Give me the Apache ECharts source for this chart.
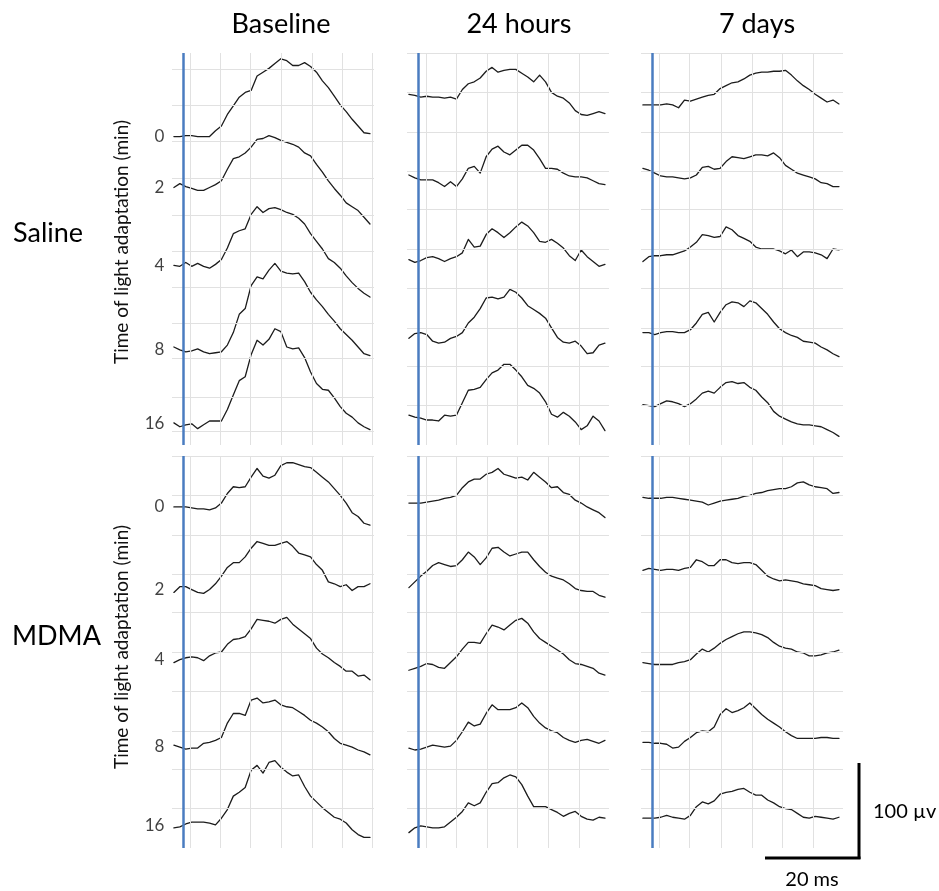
<!DOCTYPE html>
<html>
<head>
<meta charset="utf-8">
<script src="https://cdn.jsdelivr.net/npm/echarts@6/dist/echarts.min.js"></script>
<style>
html,body{margin:0;padding:0;background:#ffffff;}
#chart{width:939px;height:891px;}
</style>
</head>
<body>
<div id="chart"></div>
<script>
// ---------------- DATA ----------------
const columnTitles = ['Baseline', '24 hours', '7 days'];
const groupNames = ['Saline', 'MDMA'];
const adaptMinutes = ['0', '2', '4', '8', '16'];
const axisTitle = 'Time of light adaptation (min)';

// sample times (ms after flash)
const timesMs = [-2, -0.75, 0.5, 1.75, 3, 4.25, 5.5, 6.75, 8, 9.25, 10.5, 11.75, 13, 14.25, 15.5, 16.75, 18,
  19.25, 20.5, 21.75, 23, 24.25, 25.5, 26.75, 28, 29.25, 30.5, 31.75, 33, 34.25, 35.5, 36.75, 38, 39.25];

// ERG amplitudes (µV, relative to each trace's pre-flash baseline), traces: 0,2,4,8,16 min
const salineBaseline = [
  [0,0,1,1,0,0,0,6,11,23,32,41,46,48,63,67,71,76,81,79,74,74,77,73,67,58,51,42,33,26,18,11,4,3],
  [0,4,1,-1,-3,-3,0,3,7,19,30,32,36,42,50,51,54,52,49,47,45,42,36,33,24,16,7,-1,-8,-16,-20,-24,-31,-38],
  [0,-1,3,-1,2,-1,-3,1,6,18,33,36,38,53,61,55,59,60,58,55,53,49,43,33,25,17,7,3,-3,-11,-18,-24,-29,-33],
  [3,0,-2,-1,1,-2,-4,-3,-2,5,18,37,43,67,76,74,83,90,82,80,79,80,71,60,52,45,37,30,22,16,10,3,-4,-6],
  [1,-3,-1,0,-5,-1,3,3,3,15,30,45,49,72,87,82,88,99,96,80,78,79,69,54,42,36,35,27,18,11,7,1,-3,-6]
];
const saline24h = [
  [1,0,-2,-1,-2,-2,-3,-2,-4,6,12,14,18,25,29,24,26,27,27,23,19,14,21,14,3,-1,-3,-8,-16,-20,-21,-19,-17,-19],
  [1,-2,-4,-4,-4,-7,-11,-6,-11,-3,8,10,3,20,28,31,25,22,27,32,32,27,18,8,8,7,3,0,-1,-1,-2,-5,-8,-9],
  [2,-1,1,4,5,3,0,3,5,9,23,15,16,28,34,30,25,30,36,41,37,30,21,20,23,19,14,6,1,12,5,0,-5,-3],
  [-1,4,5,3,-4,-6,-5,-1,1,5,15,21,30,41,42,40,42,50,47,41,33,29,25,20,10,0,-5,-6,-4,-9,-17,-16,-8,-6],
  [1,-1,-2,-4,-4,-5,1,0,1,14,27,28,30,38,45,48,54,54,48,41,32,29,24,15,2,-1,4,0,-6,-14,-10,0,-5,-15]
];
const saline7d = [
  [0,0,0,0,1,0,-3,5,4,6,8,10,11,17,20,23,24,27,31,33,34,34,35,35,36,31,25,20,16,11,7,3,5,1],
  [8,6,3,0,-1,-1,-2,-3,-2,1,9,10,7,8,15,20,19,18,20,22,22,21,24,19,11,7,3,1,-1,-3,-7,-8,-11,-11],
  [-6,-1,0,0,1,1,3,5,9,14,22,21,19,20,30,27,21,18,15,9,7,7,7,5,2,6,-1,4,4,3,1,-3,7,6],
  [0,0,-2,0,1,1,0,0,3,10,19,21,11,21,29,32,31,27,33,31,25,19,11,4,0,-3,-5,-9,-10,-11,-15,-18,-22,-25],
  [0,-1,-2,1,4,3,1,-2,1,6,12,14,12,18,23,24,22,23,18,15,8,2,-7,-12,-15,-18,-20,-21,-21,-22,-23,-26,-29,-33]
];
const mdmaBaseline = [
  [0,0,0,-1,-2,-2,-3,-1,4,14,21,20,21,31,40,32,30,33,43,46,46,44,42,41,36,31,26,19,12,4,-6,-10,-17,-19],
  [-3,3,3,0,-3,-4,0,6,14,23,28,28,34,43,50,48,46,46,48,50,45,38,36,34,26,20,8,6,3,5,-1,3,3,6],
  [-3,0,2,3,2,-1,4,7,8,16,21,22,24,32,42,41,40,38,42,44,37,32,27,22,12,6,2,-3,-7,-12,-12,-17,-16,-21],
  [1,-1,-3,-2,-2,3,4,6,9,24,34,34,32,48,50,45,46,48,43,41,40,36,32,27,24,20,15,8,3,1,-1,-4,-6,-9],
  [-2,-1,2,4,4,4,3,1,8,17,31,35,40,58,63,55,66,68,61,56,52,53,41,31,25,19,14,9,7,3,-4,-9,-12,-12]
];
const mdma24h = [
  [0,0,0,1,2,3,5,6,8,16,22,25,25,30,32,36,30,28,26,27,24,32,27,22,16,17,11,9,3,0,-4,-7,-10,-15],
  [-8,-2,4,9,15,18,16,14,15,21,29,24,16,23,33,34,29,25,27,29,29,21,14,8,4,2,0,-4,-9,-11,-12,-12,-16,-18],
  [-2,0,2,5,4,1,0,6,12,20,27,27,26,36,45,43,40,45,50,52,47,38,31,27,23,19,15,9,5,4,2,0,-5,-7],
  [0,-2,-1,1,3,2,1,2,8,17,27,23,25,36,45,40,40,40,42,47,42,33,26,21,18,16,11,8,6,8,9,7,5,8],
  [-5,0,2,1,0,0,1,6,11,17,26,23,26,37,46,47,52,55,53,45,33,22,22,22,19,16,12,15,17,12,9,8,11,10]
];
const mdma7d = [
  [1,0,0,0,1,1,0,-1,-2,-3,-4,-7,-5,-3,-2,-1,0,2,3,5,6,8,9,10,10,12,16,17,14,12,11,10,5,6],
  [0,2,1,0,1,1,0,2,3,11,9,5,5,11,11,8,7,8,8,6,0,-6,-9,-11,-10,-11,-12,-14,-15,-16,-19,-20,-21,-20],
  [1,0,-1,-1,-1,-1,1,2,4,10,15,12,16,21,25,28,31,33,33,32,30,27,22,18,16,15,12,11,8,8,9,11,12,14],
  [0,0,-1,-1,-2,-6,-5,1,5,10,12,11,16,29,35,31,33,36,41,35,29,24,20,16,11,7,4,4,4,4,5,5,4,4],
  [0,0,0,1,3,1,0,-1,3,12,17,15,18,25,27,28,30,31,27,24,24,19,16,12,10,9,5,1,0,2,1,0,-1,1]
];

// vertical stacking offsets of each trace (µV above panel bottom)
const salineBaselineOffsets = [321, 268, 187, 99, 22];
const saline24hOffsets = [364, 280, 191, 112, 30];
const saline7dOffsets = [354, 280, 197, 117, 42];
const mdmaBaselineOffsets = [355, 269, 196, 106, 23];
const mdma24hOffsets = [359, 279, 187, 104, 21];
const mdma7dOffsets = [364, 289, 192, 110, 31];

// background grid (ms / µV)
const vGridBaseline = [1.4, 7.7, 14.0, 20.5, 27.1, 33.4, 39.7];
const vGrid24h = [1.7, 8.0, 14.5, 20.8, 27.4, 33.9];
const vGrid7d = [1.5, 7.8, 14.5, 21.0, 27.4, 33.9];
const hGridSalineBaseline = [391, 354, 316, 278, 239, 202, 164, 127, 90, 50, 14];
const hGridStandard = [408, 367, 326, 285, 245, 204, 163, 122, 82, 41];

// ---------------- CHART ----------------
const FONT = 'Lato, "Open Sans", sans-serif';
const panels = [
  {row:0, col:0, traces:salineBaseline, offsets:salineBaselineOffsets, v:vGridBaseline, h:hGridSalineBaseline},
  {row:0, col:1, traces:saline24h, offsets:saline24hOffsets, v:vGrid24h, h:hGridStandard},
  {row:0, col:2, traces:saline7d, offsets:saline7dOffsets, v:vGrid7d, h:hGridStandard},
  {row:1, col:0, traces:mdmaBaseline, offsets:mdmaBaselineOffsets, v:vGridBaseline, h:hGridStandard},
  {row:1, col:1, traces:mdma24h, offsets:mdma24hOffsets, v:vGrid24h, h:hGridStandard},
  {row:1, col:2, traces:mdma7d, offsets:mdma7dOffsets, v:vGrid7d, h:hGridStandard}
];
const gridLeft = [172, 407, 641];
const gridTop = [53, 456];
const namePad = [14, 10];
const X_MIN = -2.4, X_MAX = 40.1, Y_MAX = 408;

const grids = [], xAxes = [], yAxes = [], series = [];
panels.forEach((p, i) => {
  grids.push({left: gridLeft[p.col], top: gridTop[p.row], width: 202, height: 392});
  xAxes.push({gridIndex: i, type: 'value', min: X_MIN, max: X_MAX, show: false});
  yAxes.push({
    gridIndex: i, type: 'value', min: 0, max: Y_MAX, show: p.col === 0,
    axisLine: {show: false}, axisTick: {show: false}, axisLabel: {show: false}, splitLine: {show: false},
    name: p.col === 0 ? axisTitle : '', nameLocation: 'middle', nameGap: 41,
    nameTextStyle: {fontFamily: FONT, fontSize: 19, color: '#111', padding: [0, 0, 0, namePad[p.row]]}
  });
  // background grid lines
  series.push({
    type: 'line', xAxisIndex: i, yAxisIndex: i, data: [[X_MIN, 0]], symbol: 'none',
    lineStyle: {opacity: 0}, silent: true, z: 1, animation: false,
    markLine: {
      silent: true, symbol: ['none', 'none'], label: {show: false}, animation: false,
      lineStyle: {color: '#e1e1e1', width: 1, type: 'solid'},
      data: p.v.map(x => ({xAxis: x})).concat(p.h.map(y => ({yAxis: y})))
    }
  });
  // traces
  p.traces.forEach((amp, k) => {
    series.push({
      type: 'line', xAxisIndex: i, yAxisIndex: i, name: groupNames[p.row] + ' ' + columnTitles[p.col] + ' ' + adaptMinutes[k],
      data: timesMs.map((t, j) => [t, p.offsets[k] + amp[j]]),
      symbol: 'none', smooth: false, z: 3, animation: false, silent: true,
      lineStyle: {color: '#1c1c1c', width: 1.3, join: 'round', cap: 'round'}
    });
  });
  // flash onset line
  series.push({
    type: 'line', xAxisIndex: i, yAxisIndex: i, data: [[X_MIN, 0]], symbol: 'none',
    lineStyle: {opacity: 0}, silent: true, z: 5, animation: false,
    markLine: {
      silent: true, symbol: ['none', 'none'], label: {show: false}, animation: false,
      lineStyle: {color: '#4a7cc0', width: 2.5, type: 'solid'},
      data: [{xAxis: 0}]
    }
  });
  // minute labels on the left column
  if (p.col === 0) {
    series.push({
      type: 'scatter', xAxisIndex: i, yAxisIndex: i, z: 6, animation: false, silent: true,
      data: p.offsets.map(o => [timesMs[0], o]),
      symbolSize: 1, itemStyle: {color: 'rgba(0,0,0,0)'},
      label: {
        show: true, position: 'left', distance: 9,
        formatter: prm => adaptMinutes[prm.dataIndex],
        fontFamily: FONT, fontSize: 17, color: '#111'
      }
    });
  }
});

const graphics = [];
columnTitles.forEach((t, c) => {
  graphics.push({type: 'text', x: [281, 519, 757][c], y: 24,
    style: {text: t, fontFamily: FONT, fontSize: 27, fill: '#000', textAlign: 'center', textVerticalAlign: 'middle'}});
});
graphics.push({type: 'text', x: 13, y: 233, style: {text: groupNames[0], fontFamily: FONT, fontSize: 27, fill: '#000', textAlign: 'left', textVerticalAlign: 'middle'}});
graphics.push({type: 'text', x: 12, y: 636, style: {text: groupNames[1], fontFamily: FONT, fontSize: 27, fill: '#000', textAlign: 'left', textVerticalAlign: 'middle'}});
// scale bar
graphics.push({type: 'line', shape: {x1: 859, y1: 763, x2: 859, y2: 859}, style: {stroke: '#000', lineWidth: 3}});
graphics.push({type: 'line', shape: {x1: 765, y1: 858, x2: 860.5, y2: 858}, style: {stroke: '#000', lineWidth: 3}});
graphics.push({type: 'text', x: 873, y: 812, style: {text: '100 µv', fontFamily: FONT, fontSize: 20, fill: '#000', textAlign: 'left', textVerticalAlign: 'middle'}});
graphics.push({type: 'text', x: 812, y: 880, style: {text: '20 ms', fontFamily: FONT, fontSize: 20, fill: '#000', textAlign: 'center', textVerticalAlign: 'middle'}});

const chart = echarts.init(document.getElementById('chart'), null, {renderer: 'canvas'});
chart.setOption({
  backgroundColor: '#ffffff',
  animation: false,
  grid: grids,
  xAxis: xAxes,
  yAxis: yAxes,
  series: series,
  graphic: graphics
});
</script>
</body>
</html>
